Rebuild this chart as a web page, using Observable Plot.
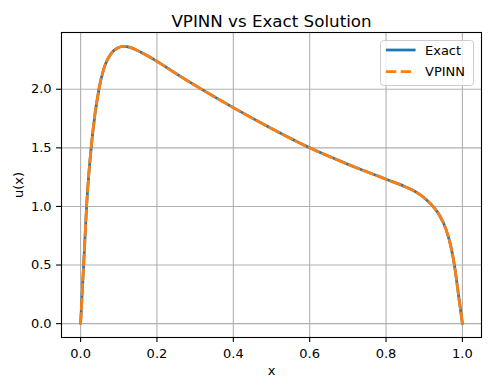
<!DOCTYPE html>
<html>
<head>
<meta charset="utf-8">
<script src="https://cdn.jsdelivr.net/npm/d3@7"></script>
<script src="https://cdn.jsdelivr.net/npm/@observablehq/plot@0.6"></script>
<style>
  html, body { margin: 0; padding: 0; background: #fff; font-family: "DejaVu Sans", sans-serif; }
  #wrap { position: relative; width: 490px; height: 390px; font-family: "DejaVu Sans", sans-serif; }
  #wrap svg text { font-family: "DejaVu Sans", sans-serif; }
  #legend { position: absolute; left: 380px; top: 40px; }
</style>
</head>
<body>
<div id="wrap"></div>
<script>
// ---- data ----
const xs = [0, 0.008, 0.0157, 0.031, 0.048, 0.061, 0.083, 0.097, 0.113, 0.13, 0.157, 0.2, 0.25, 0.3, 0.4, 0.5, 0.6, 0.7, 0.8, 0.85, 0.88, 0.905, 0.923, 0.94, 0.958, 0.97, 0.979, 0.99, 1.0];
const exactU = [0, 0.5, 1.0, 1.607, 2.0, 2.176, 2.317, 2.352, 2.366, 2.357, 2.317, 2.238, 2.133, 2.033, 1.843, 1.665, 1.5, 1.36, 1.232, 1.168, 1.12, 1.06, 1.0, 0.925, 0.796, 0.655, 0.5, 0.24, 0];
const vpinnU = [0, 0.5, 1.0, 1.607, 2.0, 2.176, 2.317, 2.352, 2.366, 2.357, 2.317, 2.238, 2.133, 2.033, 1.843, 1.665, 1.5, 1.36, 1.232, 1.168, 1.12, 1.06, 1.0, 0.925, 0.796, 0.655, 0.5, 0.24, 0];
const xTicks = [0.0, 0.2, 0.4, 0.6, 0.8, 1.0];
const yTicks = [0.0, 0.5, 1.0, 1.5, 2.0];
const seriesNames = ["Exact", "VPINN"];
const titleText = "VPINN vs Exact Solution";
const xLabel = "x";
const yLabel = "u(x)";

// ---- build table ----
const exactData = xs.map((x, i) => ({x, u: exactU[i]}));
const vpinnData = xs.map((x, i) => ({x, u: vpinnU[i]}));

// matplotlib-like 5% margins
const xMin = d3.min(xs), xMax = d3.max(xs);
const yMin = d3.min(exactU.concat(vpinnU)), yMax = d3.max(exactU.concat(vpinnU));
const xPad = (xMax - xMin) * 0.05, yPad = (yMax - yMin) * 0.05;

const BLUE = "#1f77b4", ORANGE = "#ff7f0e";
const FONT = "DejaVu Sans";
const fmt = d3.format(".1f");

const chart = Plot.plot({
  width: 490,
  height: 390,
  marginLeft: 61,
  marginRight: 9,
  marginTop: 32,
  marginBottom: 53,
  style: { fontFamily: "'DejaVu Sans', sans-serif", fontSize: "13px", color: "#000", background: "#fff" },
  x: { domain: [xMin - xPad, xMax + xPad], label: null },
  y: { domain: [yMin - yPad, yMax + yPad], label: null },
  marks: [
    Plot.gridX(xTicks, { stroke: "#b0b0b0", strokeWidth: 1.1, strokeOpacity: 1 }),
    Plot.gridY(yTicks, { stroke: "#b0b0b0", strokeWidth: 1.1, strokeOpacity: 1 }),
    Plot.line(exactData, { x: "x", y: "u", stroke: BLUE, strokeWidth: 2.78, curve: "monotone-x" }),
    Plot.line(vpinnData, { x: "x", y: "u", stroke: ORANGE, strokeWidth: 2.78, strokeDasharray: "10.3,4.4", curve: "monotone-x" }),
    Plot.frame({ stroke: "#000", strokeWidth: 1.1 }),
    Plot.axisX(xTicks, { tickFormat: fmt, tickSize: 4.9, tickPadding: 6, stroke: "#000", strokeWidth: 1.1, fontSize: 13, fontFamily: FONT, label: null }),
    Plot.axisY(yTicks, { tickFormat: fmt, tickSize: 4.9, tickPadding: 5, stroke: "#000", strokeWidth: 1.1, fontSize: 13, fontFamily: FONT, label: null }),
    Plot.text([titleText], { text: d => d, frameAnchor: "top", dy: -17, fontSize: 16.7, fontFamily: FONT, fill: "#000" }),
    Plot.text([xLabel], { text: d => d, frameAnchor: "bottom", dy: 37, fontSize: 13, fontFamily: FONT, fill: "#000" }),
    Plot.text([yLabel], { text: d => d, frameAnchor: "left", dx: -43, rotate: -90, textAnchor: "middle", fontSize: 13, fontFamily: FONT, fill: "#000" })
  ]
});

const wrap = document.getElementById("wrap");
wrap.appendChild(chart);

// ---- legend overlay ----
const colors = [BLUE, ORANGE];
const dashes = [null, "10.3,4.4"];
const lg = d3.create("svg").attr("id", "legend").attr("width", 94).attr("height", 46)
  .style("font-family", "'DejaVu Sans', sans-serif");
lg.append("rect").attr("x", 0.5).attr("y", 0.5).attr("width", 93).attr("height", 45)
  .attr("rx", 3).attr("fill", "rgba(255,255,255,0.8)").attr("stroke", "#cccccc").attr("stroke-width", 1);
seriesNames.forEach((name, i) => {
  const cy = 10 + i * 21.7;
  lg.append("line").attr("x1", 6).attr("x2", 35.6).attr("y1", cy).attr("y2", cy)
    .attr("stroke", colors[i]).attr("stroke-width", 2.78)
    .attr("stroke-dasharray", dashes[i]);
  lg.append("text").attr("x", 45).attr("y", cy).attr("dy", "0.35em")
    .attr("font-size", 13).attr("fill", "#000").text(name);
});
wrap.appendChild(lg.node());
</script>
</body>
</html>
